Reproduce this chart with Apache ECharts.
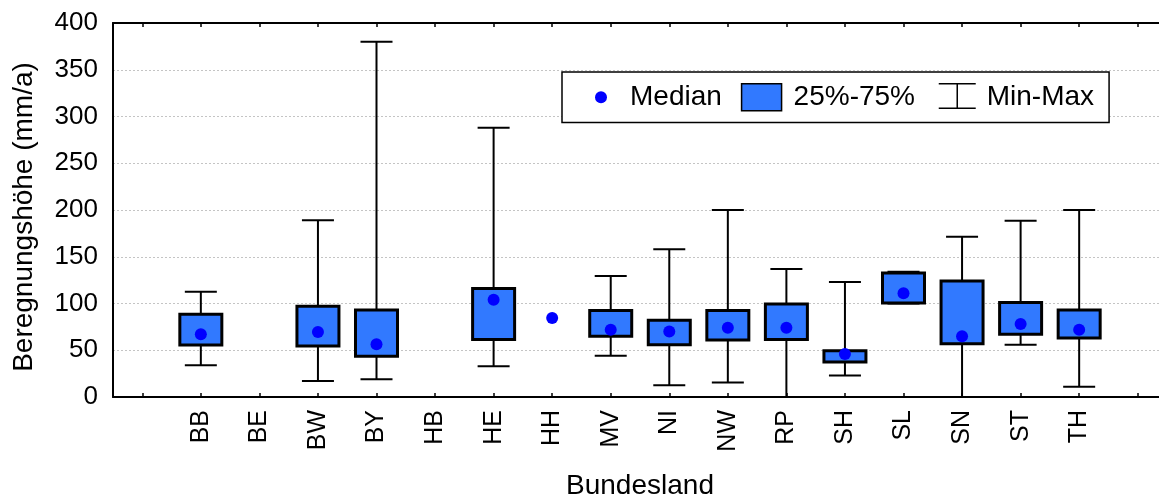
<!DOCTYPE html>
<html>
<head>
<meta charset="utf-8">
<script src="https://cdn.jsdelivr.net/npm/echarts@6/dist/echarts.min.js"></script>
<style>
html,body{margin:0;padding:0;background:#fff;}
#chart{width:1159px;height:498px;}
</style>
</head>
<body>
<div id="chart"></div>
<script>
// Categories (Bundesländer)
var categories = ['BB','BE','BW','BY','HB','HE','HH','MV','NI','NW','RP','SH','SL','SN','ST','TH'];
// Statistics per category (mm/a); null = no data
var minVals = [34, null, 17, 19, null, 33, null, 44, 12.5, 15.5, 0, 23, 100, 0, 56, 11];
var q1Vals  = [55.5, null, 54.5, 43.5, null, 61.5, null, 65, 56, 61, 61.5, 37.5, 100.5, 57, 67, 63];
var medVals = [67, null, 69.5, 56.5, null, 104, 84.5, 72, 70, 74, 74, 46, 111, 65, 78, 72];
var q3Vals  = [88.5, null, 97, 93, null, 116, null, 92.5, 82, 92.5, 99.5, 49.5, 132.5, 124, 101, 93];
var maxVals = [112.5, null, 189, 380, null, 288, null, 129.5, 158, 200, 137, 123, 134, 171.5, 188.5, 200];
// Y axis ticks
var yMin = 0, yMax = 400, yStep = 50;
var legendNames = ['Median', '25%-75%', 'Min-Max'];
var xAxisTitle = 'Bundesland';
var yAxisTitle = 'Beregnungshöhe (mm/a)';

// axis with one empty slot at each end
var axisCats = [''].concat(categories).concat(['']);

var whiskerData = [], boxData = [], medianData = [];
for (var i = 0; i < categories.length; i++) {
  if (minVals[i] != null) whiskerData.push([i + 1, minVals[i], maxVals[i]]);
  if (q1Vals[i] != null) boxData.push([i + 1, q1Vals[i], q3Vals[i]]);
  if (medVals[i] != null) medianData.push([i + 1, medVals[i]]);
}

var FONT = '"Liberation Sans", Arial, sans-serif';
var BOXCOL = '#3179FF';

var chart = echarts.init(document.getElementById('chart'), null, {renderer: 'canvas'});
var option = {
  animation: false,
  backgroundColor: '#ffffff',
  textStyle: {fontFamily: FONT, color: '#000'},
  grid: {left: 113, top: 23, right: -8, bottom: 101, outerBoundsMode: 'none', containLabel: false},
  legend: {
    left: 562, top: 72,
    orient: 'horizontal',
    padding: [10.5, 15, 10.5, 16],
    itemGap: 19,
    itemWidth: 47, itemHeight: 28,
    borderColor: '#000', borderWidth: 1.5,
    backgroundColor: '#fff',
    selectedMode: false,
    textStyle: {fontSize: 28, fontFamily: FONT, color: '#000'},
    data: [
      {name: legendNames[0], icon: 'path://M0 0 M47 28 M17 14 A6 6 0 1 1 29 14 A6 6 0 1 1 17 14 Z',
        itemStyle: {color: '#0000FF', borderWidth: 0}},
      {name: legendNames[1], icon: 'path://M0 0.5 L40 0.5 L40 27.5 L0 27.5 Z M0 0 M47 28',
        itemStyle: {color: BOXCOL, borderColor: '#000', borderWidth: 1.5}},
      {name: legendNames[2], icon: 'path://M4 0.5 L41 0.5 M22.5 0.5 L22.5 25 M4 25 L41 25 M0 0 M47 28',
        itemStyle: {color: 'rgba(0,0,0,0)', borderColor: '#000', borderWidth: 1.5}}
    ]
  },
  xAxis: [{
    type: 'category',
    data: axisCats,
    position: 'bottom',
    boundaryGap: true,
    name: xAxisTitle,
    nameLocation: 'middle',
    nameGap: 75,
    nameTextStyle: {fontSize: 28, fontFamily: FONT, color: '#000'},
    axisLine: {show: true, onZero: false, lineStyle: {color: '#000', width: 2}},
    axisTick: {show: true, inside: true, alignWithLabel: true, length: 4, lineStyle: {color: '#000', width: 1.5}},
    axisLabel: {show: true, interval: 0, rotate: 90, fontSize: 25, fontFamily: FONT, color: '#000', margin: 13},
    splitLine: {show: false}
  }, {
    type: 'category',
    data: axisCats,
    position: 'top',
    boundaryGap: true,
    axisLine: {show: true, onZero: false, lineStyle: {color: '#000', width: 2}},
    axisTick: {show: true, inside: true, alignWithLabel: true, length: 4, lineStyle: {color: '#000', width: 1.5}},
    axisLabel: {show: false},
    splitLine: {show: false}
  }],
  yAxis: {
    type: 'value',
    min: yMin, max: yMax, interval: yStep,
    name: yAxisTitle,
    nameLocation: 'middle',
    nameGap: 75,
    nameTextStyle: {fontSize: 28, fontFamily: FONT, color: '#000', padding: [0, 14, 0, 0]},
    axisLine: {show: true, lineStyle: {color: '#000', width: 2}},
    axisTick: {show: false},
    axisLabel: {fontSize: 26, fontFamily: FONT, color: '#000', margin: 15},
    splitLine: {show: true, lineStyle: {color: '#c4c4c4', width: 1, type: [2, 2]}}
  },
  series: [{
    name: legendNames[2],
    type: 'custom',
    xAxisIndex: 0,
    z: 2,
    itemStyle: {color: '#000'},
    encode: {x: 0, y: [1, 2]},
    data: whiskerData,
    renderItem: function (params, api) {
      var x = api.value(0);
      var pLo = api.coord([x, api.value(1)]);
      var pHi = api.coord([x, api.value(2)]);
      var hw = 16;
      var st = {stroke: '#000', lineWidth: 2, fill: null};
      return {type: 'group', children: [
        {type: 'line', shape: {x1: pLo[0], y1: pLo[1], x2: pHi[0], y2: pHi[1]}, style: st},
        {type: 'line', shape: {x1: pLo[0] - hw, y1: pLo[1], x2: pLo[0] + hw, y2: pLo[1]}, style: st},
        {type: 'line', shape: {x1: pHi[0] - hw, y1: pHi[1], x2: pHi[0] + hw, y2: pHi[1]}, style: st}
      ]};
    }
  }, {
    name: legendNames[1],
    type: 'custom',
    xAxisIndex: 0,
    z: 3,
    itemStyle: {color: BOXCOL},
    encode: {x: 0, y: [1, 2]},
    data: boxData,
    renderItem: function (params, api) {
      var x = api.value(0);
      var pLo = api.coord([x, api.value(1)]);
      var pHi = api.coord([x, api.value(2)]);
      var w = 42;
      return {type: 'rect',
        shape: {x: pLo[0] - w / 2, y: pHi[1], width: w, height: pLo[1] - pHi[1]},
        style: {fill: BOXCOL, stroke: '#000', lineWidth: 3}};
    }
  }, {
    name: legendNames[0],
    type: 'scatter',
    xAxisIndex: 0,
    z: 4,
    symbol: 'circle',
    symbolSize: 12,
    itemStyle: {color: '#0000FF', opacity: 1},
    data: medianData
  }]
};
chart.setOption(option);
</script>
</body>
</html>
